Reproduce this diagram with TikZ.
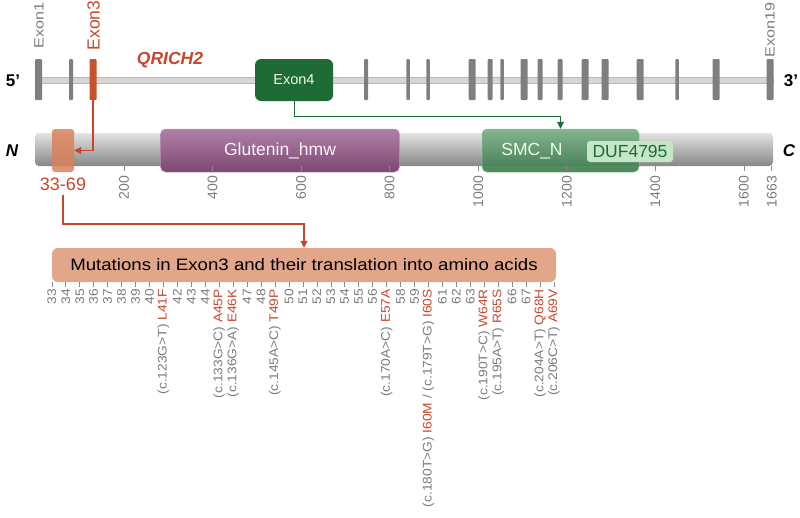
\documentclass[tikz,border=0pt]{standalone}
\usepackage{fontspec}
\setmainfont{Liberation Sans}
\newfontfamily\wideA{Liberation Sans}[FakeStretch=1.13]
\newfontfamily\wideB{Liberation Sans}[FakeStretch=1.1]
\newfontfamily\wideC{Liberation Sans}[FakeStretch=1.2]
\usetikzlibrary{arrows.meta}
\definecolor{exgray}{HTML}{7F7F7F}
\definecolor{linegray}{HTML}{D6D6D6}
\definecolor{linedge}{HTML}{B8B8B8}
\definecolor{myred}{HTML}{C8472B}
\definecolor{ex3red}{HTML}{C9512B}
\definecolor{dgreen}{HTML}{1F6B36}
\definecolor{banner}{HTML}{E2A68A}
\definecolor{orangebox}{HTML}{D98258}
\definecolor{purptop}{HTML}{B080A8}
\definecolor{purpbot}{HTML}{7D4872}
\definecolor{purpedge}{HTML}{C49ABD}
\definecolor{smctop}{HTML}{7CB088}
\definecolor{smcbot}{HTML}{3F7D4E}
\definecolor{smcedge}{HTML}{8DBE97}
\definecolor{duf}{HTML}{C6E6C8}
\definecolor{txtgray}{HTML}{7C7C7C}
\definecolor{tickgray}{HTML}{8A8A8A}
\begin{document}
\begin{tikzpicture}[x=1pt,y=-1pt,
  exon/.style={fill=exgray, minimum height=41pt, inner sep=0pt, rounded corners=1pt},
  rlab/.style={rotate=90, anchor=east, inner sep=0pt, text=txtgray, font=\wideB\fontsize{12.5}{13}\selectfont},
  plab/.style={rotate=90, anchor=east, inner sep=0pt, text=txtgray, font=\fontsize{14}{14}\selectfont},
  elab/.style={rotate=90, anchor=east, inner sep=0pt, text=txtgray, font=\wideC\fontsize{13.5}{14}\selectfont},
  redarrow/.style={draw=myred, line width=1.1pt, -{Triangle[length=7pt,width=7pt]}},
  grnarrow/.style={draw=dgreen, line width=1pt, -{Triangle[length=7pt,width=7pt]}},
  endlab/.style={font=\bfseries\fontsize{17}{17}\selectfont, inner sep=0pt},
  termlab/.style={font=\bfseries\itshape\fontsize{17}{17}\selectfont, inner sep=0pt}
]
\useasboundingbox (0,0) rectangle (800,517);

% gene track
\node[fill=linegray, draw=linedge, line width=0.7pt, minimum width=737pt, minimum height=6pt, inner sep=0pt] (gline) at (404.5,80) {};
\foreach \x/\w [count=\i] in {38.5/7,71/4,366/4,408/3.5,428/3.5,472/7,490/5,502/3.5,524/7,540/5,560/5,585/7,605/7,640/7,677/3.5,716/7,770/7}
  \node[exon, minimum width=\w pt] (e\i) at (\x,79.5) {};
\node[exon, fill=ex3red, minimum width=7pt] (ex3) at (93,79.5) {};
\node[fill=dgreen, rounded corners=6pt, minimum width=78pt, minimum height=42pt, inner sep=0pt,
      text=white!92!green, font=\fontsize{14.5}{15}\selectfont] (ex4) at (294,80) {Exon4};

\node[elab] (lx1) at (39,2) {Exon1};
\node[elab] (lx19) at (770,2) {Exon19};
\node[rotate=90, anchor=east, inner sep=0pt, text=myred, font=\fontsize{17.5}{18}\selectfont] (lx3) at (93.5,0.5) {Exon3};
\node[text=myred, font=\bfseries\itshape\fontsize{17.5}{18}\selectfont] (gname) at (170,60) {QRICH2};
\node[endlab] (five) at (13,81) {5’};
\node[endlab] (three) at (791,81) {3’};

% protein
\node[minimum width=738pt, minimum height=33pt, rounded corners=4pt, inner sep=0pt,
      top color=black!11, bottom color=black!47] (prot) at (404,149.5) {};
\node[fill=orangebox, fill opacity=0.85, rounded corners=3pt, minimum width=22pt, minimum height=43pt, inner sep=0pt] (obox) at (63,150.5) {};
\node[top color=purptop, bottom color=purpbot, draw=purpedge, line width=0.5pt,
      rounded corners=5pt, minimum width=239pt, minimum height=43pt, inner sep=0pt,
      text=white!92!purptop, font=\fontsize{17.5}{18}\selectfont] (glut) at (280,150.5) {Glutenin\_hmw};
\node[top color=smctop, bottom color=smcbot, fill opacity=0.93, draw=smcedge, line width=0.5pt,
      rounded corners=5pt, minimum width=157pt, minimum height=43pt, inner sep=0pt] (smc) at (560.5,150.5) {};
\node[text=white!92!green, font=\fontsize{17.5}{18}\selectfont, inner sep=0pt] (smct) at (532,151) {SMC\_N};
\node[fill=duf, rounded corners=3pt, minimum width=86pt, minimum height=21pt, inner sep=0pt,
      text=dgreen, font=\fontsize{17.5}{18}\selectfont] (dufb) at (630,151.5) {DUF4795};
\node[termlab] (nterm) at (12,151) {N};
\node[termlab] (cterm) at (789,151) {C};

\foreach \a in {200,400,600,800,1000,1200,1400,1600,1663}{
  \draw[tickgray, line width=0.6pt] (35.5+0.4427*\a,166) -- ++(0,5);
  \node[plab] (p\a) at (35.5+0.4427*\a,176) {\a};
}
\node[text=myred, font=\fontsize{18}{18}\selectfont, inner sep=1pt] (rng) at (63,184) {33-69};

% banner
\node[fill=banner, rounded corners=6pt, minimum width=504pt, minimum height=34pt, inner sep=0pt,
      font=\wideA\fontsize{16.5}{17}\selectfont] (banner) at (304,265) {Mutations in Exon3 and their translation into amino acids};

\foreach \n in {33,...,69}
  \draw[tickgray, line width=0.6pt] (51.8+13.95*\n-460.35,282) -- ++(0,5);
\foreach \n in {33,34,35,36,37,38,39,40,42,43,44,47,48,50,51,52,53,54,55,56,58,59,61,62,63,66,67}
  \node[rlab] (n\n) at (51.8+13.95*\n-460.35,289) {\n};
\foreach \n/\c/\m in {41/{(c.123G>T)}/L41F,45/{(c.133G>C)}/A45P,46/{(c.136G>A)}/E46K,49/{(c.145A>C)}/T49P,
  57/{(c.170A>C)}/E57A,64/{(c.190T>C)}/W64R,65/{(c.195A>T)}/R65S,68/{(c.204A>T)}/Q68H,69/{(c.206C>T)}/A69V}
  \node[rlab] (m\n) at (51.8+13.95*\n-460.35,289) {\c\ \textcolor{myred}{\m}};
\node[rlab] (m60) at (51.8+13.95*60-460.35,289) {(c.180T>G) \textcolor{myred}{I60M} / (c.179T>G) \textcolor{myred}{I60S}};

% connectors
\draw[redarrow] (ex3.south) |- (obox.east);
\draw[grnarrow] (ex4.south) -- ++(0,15) -| (smc.north);
\coordinate (bend) at (63,224);
\draw[redarrow] ([yshift=-3pt]rng.south) -- (bend) -| (banner.north);
\end{tikzpicture}
\end{document}
